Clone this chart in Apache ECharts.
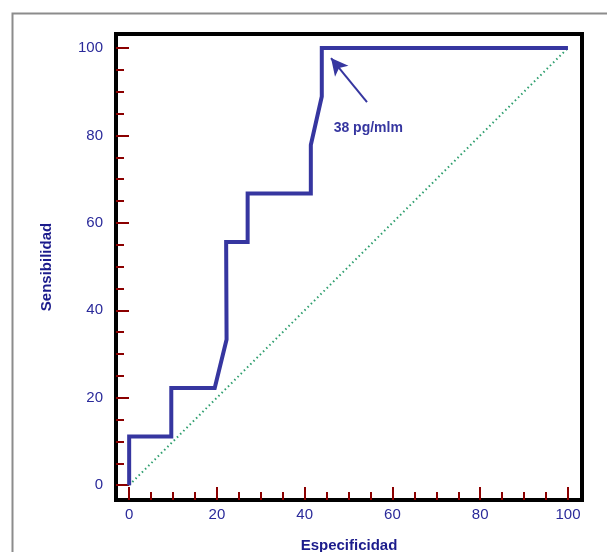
<!DOCTYPE html>
<html>
<head>
<meta charset="utf-8">
<script src="https://cdn.jsdelivr.net/npm/echarts@6/dist/echarts.min.js"></script>
<style>
  html, body { margin: 0; padding: 0; background: #fff; }
  #chart { width: 607px; height: 552px; }
</style>
</head>
<body>
<div id="chart"></div>
<script>
// curva ROC (1 - especificidad, sensibilidad)
var especificidad = [0, 0, 9.6, 9.6, 19.5, 22.2, 22.1, 27, 27, 41.4, 41.4, 43.9, 43.9, 100];
var sensibilidad = [0, 11.1, 11.1, 22.2, 22.2, 33.3, 55.6, 55.6, 66.7, 66.7, 77.8, 88.9, 100, 100];
var diagX = [0, 100];
var diagY = [0, 100];
var majorTicks = [0, 20, 40, 60, 80, 100];
var minorTicks = [5, 10, 15, 25, 30, 35, 45, 50, 55, 65, 70, 75, 85, 90, 95];
var etiqueta = '38 pg/mlm';
var flecha = [[54.2, 87.6], [46.0, 97.7]];
var posEtiqueta = [46.6, 81.7];

var font = 'Liberation Sans, Arial, sans-serif';
var azul = '#3636a0';
var navy = '#1c1c8c';
var rojo = '#8b0000';

function pares(xs, ys) {
	var out = [];
	for (var i = 0; i < xs.length; i++) out.push([xs[i], ys[i]]);
	return out;
}

function ejeX(principal) {
	return {
		type: 'value',
		position: 'bottom',
		min: -3,
		max: 103.2,
		name: principal ? 'Especificidad' : '',
		nameLocation: 'middle',
		nameGap: 38,
		nameTextStyle: { color: navy, fontSize: 15, fontWeight: 'bold', fontFamily: font },
		axisLine: { show: false, onZero: false },
		splitLine: { show: false },
		axisTick: {
			show: true,
			inside: true,
			length: principal ? 13 : 8,
			customValues: principal ? majorTicks : minorTicks,
			lineStyle: { color: rojo, width: 2 }
		},
		axisLabel: {
			show: principal,
			customValues: majorTicks,
			margin: 7,
			color: '#2a2a9a',
			fontSize: 15,
			fontFamily: font
		}
	};
}

function ejeY(principal) {
	return {
		type: 'value',
		position: 'left',
		min: -3.4,
		max: 103.2,
		name: principal ? 'Sensibilidad' : '',
		nameLocation: 'middle',
		nameGap: 62,
		nameTextStyle: { color: navy, fontSize: 15, fontWeight: 'bold', fontFamily: font },
		axisLine: { show: false, onZero: false },
		splitLine: { show: false },
		axisTick: {
			show: true,
			inside: true,
			length: principal ? 13 : 8,
			customValues: principal ? majorTicks : minorTicks,
			lineStyle: { color: rojo, width: 2 }
		},
		axisLabel: {
			show: principal,
			customValues: majorTicks,
			margin: 13,
			color: '#2a2a9a',
			fontSize: 15,
			fontFamily: font
		}
	};
}

var chart = echarts.init(document.getElementById('chart'));

var option = {
	animation: false,
	backgroundColor: '#fff',
	graphic: [
		{
			type: 'rect',
			left: 10,
			top: 11,
			shape: { width: 800, height: 800 },
			style: { fill: 'none', stroke: '#8c8c8c', lineWidth: 2 },
			z: -10
		}
	],
	grid: {
		left: 116,
		right: 25,
		top: 34,
		bottom: 52,
		show: true,
		borderColor: '#000',
		borderWidth: 4,
		backgroundColor: '#fff',
		outerBoundsMode: 'none'
	},
	xAxis: [ejeX(true), ejeX(false)],
	yAxis: [ejeY(true), ejeY(false)],
	series: [
		{
			name: 'diagonal',
			type: 'line',
			xAxisIndex: 0,
			yAxisIndex: 0,
			data: pares(diagX, diagY),
			showSymbol: false,
			lineStyle: { color: '#2e9e6e', width: 2, type: [1.5, 3] },
			z: 2
		},
		{
			name: 'ROC',
			type: 'line',
			xAxisIndex: 0,
			yAxisIndex: 0,
			data: pares(especificidad, sensibilidad),
			showSymbol: false,
			lineStyle: { color: azul, width: 4, join: 'miter' },
			z: 3,
			markLine: {
				silent: true,
				symbol: ['none', 'arrow'],
				symbolSize: [13, 17],
				label: { show: false },
				lineStyle: { color: azul, width: 2, type: 'solid' },
				data: [[{ coord: flecha[0] }, { coord: flecha[1] }]]
			},
			markPoint: {
				silent: true,
				symbol: 'circle',
				symbolSize: 0,
				data: [{
					coord: posEtiqueta,
					label: {
						show: true,
						position: 'right',
						distance: 0,
						formatter: etiqueta,
						color: azul,
						fontSize: 14,
						fontWeight: 'bold',
						fontFamily: font
					}
				}]
			}
		}
	]
};

chart.setOption(option);
</script>
</body>
</html>
